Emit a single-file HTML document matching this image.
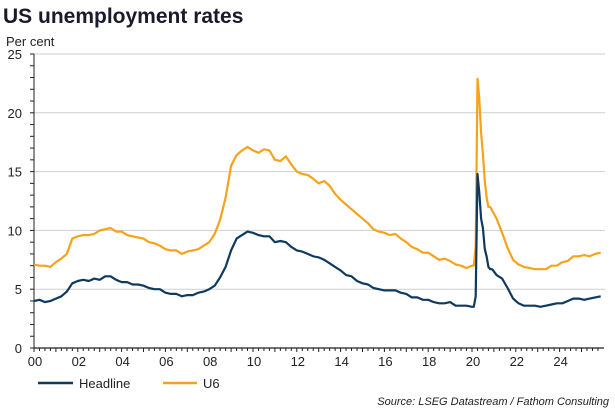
<!DOCTYPE html>
<html><head><meta charset="utf-8"><style>
body{margin:0;background:#fff;font-family:"Liberation Sans",Arial,sans-serif;}
svg{display:block}
</style></head><body>
<svg id="chart" width="615" height="410">
<text x="3" y="23" font-size="21" font-weight="bold" fill="#1a1a2a">US unemployment rates</text>
<text x="6" y="46" font-size="13" fill="#222">Per cent</text>
<g id="grid"></g><g id="axes"></g><g id="series"></g>
<g>
<line x1="38" y1="383" x2="73" y2="383" stroke="#0e3a5f" stroke-width="2.5"/>
<text x="79" y="388" font-size="13" fill="#222">Headline</text>
<line x1="163" y1="383" x2="197" y2="383" stroke="#f5a31a" stroke-width="2.5"/>
<text x="203" y="388" font-size="13" fill="#222">U6</text>
</g>
<text x="609" y="405" font-size="11" font-style="italic" fill="#222" text-anchor="end">Source: LSEG Datastream / Fathom Consulting</text>
</svg>
<script>
const yTicks=[0,5,10,15,20,25];
const xTickLabels=["00","02","04","06","08","10","12","14","16","18","20","22","24"];
const headlinePre=[4.0,4.1,3.9,4.0,4.2,4.4,4.8,5.5,5.7,5.8,5.7,5.9,5.8,6.1,6.1,5.8,5.6,5.6,5.4,5.4,5.3,5.1,5.0,5.0,4.7,4.6,4.6,4.4,4.5,4.5,4.7,4.8,5.0,5.3,6.0,6.9,8.3,9.3,9.6,9.9,9.8,9.6,9.5,9.5,9.0,9.1,9.0,8.6,8.3,8.2,8.0,7.8,7.7,7.5,7.2,6.9,6.6,6.2,6.1,5.7,5.5,5.4,5.1,5.0,4.9,4.9,4.9,4.7,4.6,4.3,4.3,4.1,4.1,3.9,3.8,3.8,3.9,3.6,3.6,3.6];
const headline2020=[3.5,3.5,4.4,14.8,13.2,11.0,10.2,8.4,7.8,6.9,6.7,6.7];
const headlinePost=[6.2,5.9,5.1,4.2,3.8,3.6,3.6,3.6,3.5,3.6,3.7,3.8,3.8,4.0,4.2,4.2,4.1,4.2,4.3,4.4];
const u6Pre=[7.1,7.0,7.0,6.9,7.3,7.6,8.0,9.3,9.5,9.6,9.6,9.7,10.0,10.1,10.2,9.9,9.9,9.6,9.5,9.4,9.3,9.0,8.9,8.7,8.4,8.3,8.3,8.0,8.2,8.3,8.4,8.7,9.0,9.7,10.9,12.8,15.5,16.4,16.8,17.1,16.8,16.6,16.9,16.8,16.0,15.9,16.3,15.6,15.0,14.8,14.7,14.4,14.0,14.2,13.8,13.1,12.6,12.2,11.8,11.4,11.0,10.6,10.1,9.9,9.8,9.6,9.7,9.3,9.0,8.6,8.4,8.1,8.1,7.8,7.5,7.6,7.4,7.1,7.0,6.8];
const u62020=[7.0,7.0,8.7,22.9,21.2,18.3,16.5,14.2,12.8,12.0,12.0,11.7];
const u6Post=[11.0,9.8,8.5,7.5,7.1,6.9,6.8,6.7,6.7,6.7,7.0,7.0,7.3,7.4,7.8,7.8,7.9,7.8,8.0,8.1];

const NS="http://www.w3.org/2000/svg";
const X0=34,PXY=21.9,Y0=348,PXU=11.76;
const xs=t=>X0+(t-2000)*PXY;
const ys=v=>Y0-v*PXU;
function mk(tag,attrs,parent){const e=document.createElementNS(NS,tag);for(const k in attrs)e.setAttribute(k,attrs[k]);parent.appendChild(e);return e;}
function dates(){const d=[];for(let i=0;i<80;i++)d.push(2000+i/4);for(let i=0;i<12;i++)d.push(2020+i/12);for(let i=0;i<20;i++)d.push(2021+i/4+0.125);return d;}
const D=dates();
const grid=document.getElementById('grid'),axes=document.getElementById('axes'),ser=document.getElementById('series');
yTicks.forEach(v=>{
 if(v>0){const g=mk('line',{x1:X0,x2:605,y1:ys(v),y2:ys(v),stroke:'#cfcfcf','stroke-width':1},grid);
 
 }
 const t=mk('text',{x:22,y:ys(v)+5,'font-size':13,fill:'#222','text-anchor':'end'},axes);t.textContent=v;
 
 
});
for(let v=0;v<=25;v++){mk('line',{x1:X0-4,x2:X0,y1:ys(v),y2:ys(v),stroke:'#222','stroke-width':1},axes);}
const ya=mk('line',{x1:X0,x2:X0,y1:ys(25),y2:Y0,stroke:'#222','stroke-width':1},axes);


const xa=mk('line',{x1:X0,x2:604,y1:Y0,y2:Y0,stroke:'#222','stroke-width':1.2},axes);


for(let q=0;q<=103;q++){const t=2000+q/4;mk('line',{x1:xs(t),x2:xs(t),y1:Y0,y2:Y0+(q%4==0?4:3),stroke:'#222','stroke-width':1},axes);}
xTickLabels.forEach((l,i)=>{const t=mk('text',{x:xs(2000+2*i)+1,y:366,'font-size':13,fill:'#222','text-anchor':'middle'},axes);t.textContent=l;
 
 });
function line(vals,color,name){const p=vals.map((v,i)=>(i?'L':'M')+xs(D[i]).toFixed(1)+','+ys(v).toFixed(1)).join('');
 const e=mk('path',{d:p,fill:'none',stroke:color,'stroke-width':2.2,'stroke-linejoin':'round'},ser);
 
 }
line(u6Pre.concat(u62020,u6Post),'#f5a31a','u6-line');
line(headlinePre.concat(headline2020,headlinePost),'#0e3a5f','headline-line');
</script>
</body></html>
